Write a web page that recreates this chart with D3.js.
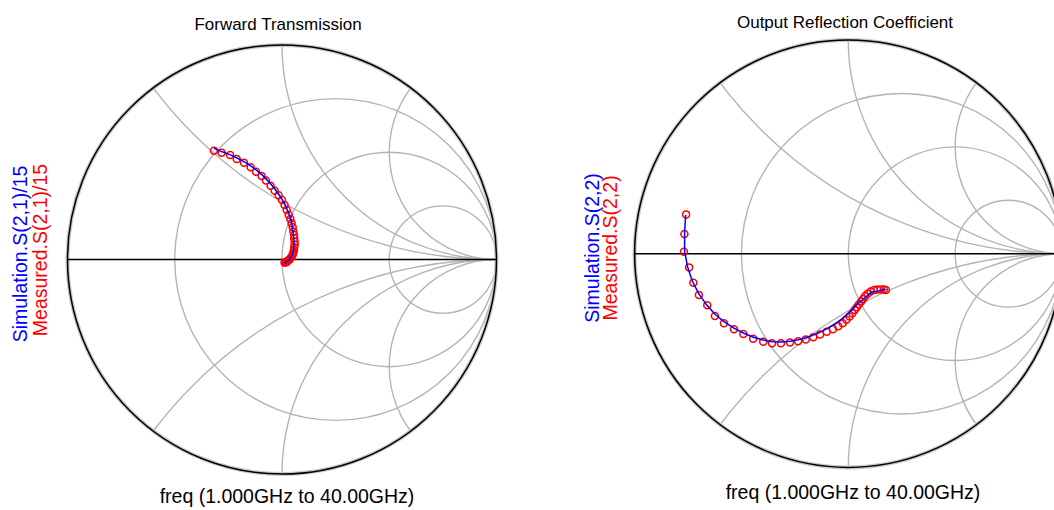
<!DOCTYPE html>
<html>
<head>
<meta charset="utf-8">
<script src="https://cdn.jsdelivr.net/npm/d3@7"></script>
<style>
  html, body { margin: 0; padding: 0; background: #fff; }
  svg { display: block; }
  text { font-family: "Liberation Sans", Arial, sans-serif; }
</style>
</head>
<body>
<svg id="chart" width="1054" height="510"></svg>
<script>
// Frequency sweep: 1 GHz to 40 GHz, 1 GHz step
const freqGHz = d3.range(1, 41);

// Smith chart grid values (normalized resistance / reactance)
const resistanceCircles = [1 / 3, 1, 3];
const reactanceArcs = [0.5, 1, 2, -0.5, -1, -2];

// S(2,1)/15 : reflection-plane coordinates (re, im)
const simS21Re = [-0.317, -0.279, -0.240, -0.207, -0.173, -0.141, -0.115, -0.090, -0.069, -0.048,
                  -0.030, -0.013, 0.002, 0.014, 0.024, 0.032, 0.040, 0.044, 0.048, 0.050,
                  0.053, 0.054, 0.056, 0.055, 0.055, 0.054, 0.051, 0.049, 0.045, 0.041,
                  0.036, 0.032, 0.027, 0.023, 0.020, 0.017, 0.015, 0.013, 0.011, 0.010];
const simS21Im = [0.518, 0.502, 0.488, 0.472, 0.454, 0.433, 0.413, 0.392, 0.370, 0.347,
                  0.324, 0.301, 0.278, 0.255, 0.233, 0.212, 0.192, 0.172, 0.153, 0.135,
                  0.118, 0.102, 0.087, 0.072, 0.059, 0.046, 0.035, 0.025, 0.016, 0.009,
                  0.003, -0.002, -0.006, -0.009, -0.011, -0.013, -0.014, -0.015, -0.016, -0.017];
const measS21Re = [-0.317, -0.281, -0.242, -0.211, -0.177, -0.146, -0.121, -0.095, -0.075, -0.053,
                   -0.034, -0.016, 0.000, 0.012, 0.022, 0.031, 0.039, 0.045, 0.050, 0.053,
                   0.056, 0.057, 0.059, 0.059, 0.057, 0.056, 0.053, 0.050, 0.047, 0.042,
                   0.037, 0.033, 0.028, 0.025, 0.022, 0.019, 0.017, 0.016, 0.014, 0.012];
const measS21Im = [0.507, 0.498, 0.487, 0.469, 0.451, 0.430, 0.409, 0.389, 0.368, 0.344,
                   0.321, 0.299, 0.277, 0.254, 0.231, 0.209, 0.189, 0.169, 0.150, 0.131,
                   0.114, 0.099, 0.083, 0.069, 0.057, 0.044, 0.033, 0.024, 0.016, 0.009,
                   0.002, -0.002, -0.005, -0.009, -0.010, -0.012, -0.012, -0.013, -0.013, -0.015];

// S(2,2)
const simS22Re = [-0.761, -0.766, -0.766, -0.752, -0.730, -0.700, -0.664, -0.625, -0.582, -0.537,
                  -0.491, -0.444, -0.398, -0.355, -0.313, -0.272, -0.234, -0.198, -0.164, -0.134,
                  -0.104, -0.078, -0.054, -0.033, -0.014, 0.003, 0.019, 0.034, 0.047, 0.062,
                  0.074, 0.086, 0.097, 0.108, 0.118, 0.130, 0.144, 0.157, 0.168, 0.176];
const simS22Im = [0.181, 0.098, 0.012, -0.062, -0.128, -0.187, -0.238, -0.282, -0.318, -0.347,
                  -0.371, -0.391, -0.404, -0.412, -0.413, -0.410, -0.403, -0.393, -0.381, -0.368,
                  -0.353, -0.338, -0.322, -0.307, -0.291, -0.276, -0.260, -0.244, -0.229, -0.222,
                  -0.210, -0.199, -0.189, -0.180, -0.177, -0.176, -0.174, -0.171, -0.168, -0.167];
const measS22Re = [-0.759, -0.767, -0.769, -0.745, -0.725, -0.699, -0.660, -0.624, -0.582, -0.535,
                   -0.491, -0.445, -0.398, -0.357, -0.315, -0.273, -0.235, -0.199, -0.164, -0.132,
                   -0.101, -0.072, -0.047, -0.026, -0.009, 0.006, 0.019, 0.030, 0.040, 0.050,
                   0.060, 0.069, 0.078, 0.090, 0.104, 0.120, 0.136, 0.152, 0.166, 0.176];
const measS22Im = [0.184, 0.092, 0.009, -0.064, -0.136, -0.193, -0.241, -0.292, -0.326, -0.354,
                   -0.376, -0.398, -0.412, -0.419, -0.419, -0.416, -0.410, -0.401, -0.391, -0.378,
                   -0.365, -0.354, -0.339, -0.325, -0.309, -0.294, -0.279, -0.264, -0.250, -0.237,
                   -0.224, -0.212, -0.199, -0.187, -0.177, -0.170, -0.167, -0.167, -0.168, -0.170];

const svg = d3.select("#chart");

const zip = (re, im) => freqGHz.map((f, i) => ({ f, re: re[i], im: im[i] }));

function smithChart(opt) {
  const { id, cx, cy, R } = opt;
  const x = d3.scaleLinear().domain([-1, 1]).range([cx - R, cx + R]);
  const y = d3.scaleLinear().domain([-1, 1]).range([cy + R, cy - R]);
  const len = v => x(v) - x(0);

  const g = svg.append("g");
  g.append("clipPath").attr("id", id + "-clip")
    .append("circle").attr("cx", x(0)).attr("cy", y(0)).attr("r", len(1));

  const grid = g.append("g").attr("clip-path", `url(#${id}-clip)`)
    .attr("fill", "none").attr("stroke", "#b4b4b4").attr("stroke-width", 1.4);

  grid.selectAll("circle.r").data(resistanceCircles).join("circle")
    .attr("class", "r")
    .attr("cx", r => x(r / (r + 1))).attr("cy", y(0))
    .attr("r", r => len(1 / (r + 1)));

  grid.selectAll("circle.x").data(reactanceArcs).join("circle")
    .attr("class", "x")
    .attr("cx", x(1)).attr("cy", v => y(1 / v))
    .attr("r", v => len(1 / Math.abs(v)));

  // outer boundary (|Γ| = 1)
  g.append("circle").attr("cx", x(0)).attr("cy", y(0)).attr("r", len(1))
    .attr("fill", "none").attr("stroke", "#c8c8c8").attr("stroke-width", 4);
  g.append("circle").attr("cx", x(0)).attr("cy", y(0)).attr("r", len(1))
    .attr("fill", "none").attr("stroke", "#000").attr("stroke-width", 1.5);
  // real axis
  g.append("line").attr("x1", x(-1)).attr("x2", x(1)).attr("y1", y(0)).attr("y2", y(0))
    .attr("stroke", "#000").attr("stroke-width", 1.5);

  // measured markers
  g.append("g").selectAll("circle").data(opt.meas).join("circle")
    .attr("cx", d => x(d.re)).attr("cy", d => y(d.im)).attr("r", 3.5)
    .attr("fill", "none").attr("stroke", "#ff0000").attr("stroke-width", 1.5);

  // simulated trace
  const line = d3.line().x(d => x(d.re)).y(d => y(d.im));
  g.append("path").datum(opt.sim).attr("d", line)
    .attr("fill", "none").attr("stroke", "#0000ff").attr("stroke-width", 1.5);

  // titles & labels
  g.append("text").attr("x", opt.titleX).attr("y", opt.titleY)
    .attr("text-anchor", "middle").attr("font-size", 17).attr("fill", "#000")
    .text(opt.title);
  g.append("text").attr("x", opt.freqX).attr("y", opt.freqY)
    .attr("text-anchor", "middle").attr("font-size", 19.5).attr("fill", "#000")
    .text("freq (1.000GHz to 40.00GHz)");
  g.append("text")
    .attr("transform", `translate(${opt.simLabelX},${opt.simLabelY}) rotate(-90)`)
    .attr("text-anchor", "middle").attr("font-size", 19.5).attr("fill", "#0000ff")
    .text(opt.simLabel);
  g.append("text")
    .attr("transform", `translate(${opt.measLabelX},${opt.measLabelY}) rotate(-90)`)
    .attr("text-anchor", "middle").attr("font-size", 19.5).attr("fill", "#ff0000")
    .text(opt.measLabel);
}

smithChart({
  id: "s21", cx: 282, cy: 259.5, R: 214.5,
  sim: zip(simS21Re, simS21Im), meas: zip(measS21Re, measS21Im),
  title: "Forward Transmission", titleX: 278, titleY: 30,
  freqX: 287, freqY: 503,
  simLabel: "Simulation.S(2,1)/15", simLabelX: 27, simLabelY: 254,
  measLabel: "Measured.S(2,1)/15", measLabelX: 47, measLabelY: 250
});

smithChart({
  id: "s22", cx: 848.3, cy: 253.7, R: 213.7,
  sim: zip(simS22Re, simS22Im), meas: zip(measS22Re, measS22Im),
  title: "Output Reflection Coefficient", titleX: 845, titleY: 28,
  freqX: 853, freqY: 499,
  simLabel: "Simulation.S(2,2)", simLabelX: 599, simLabelY: 248,
  measLabel: "Measured.S(2,2)", measLabelX: 617, measLabelY: 248
});
</script>
</body>
</html>
